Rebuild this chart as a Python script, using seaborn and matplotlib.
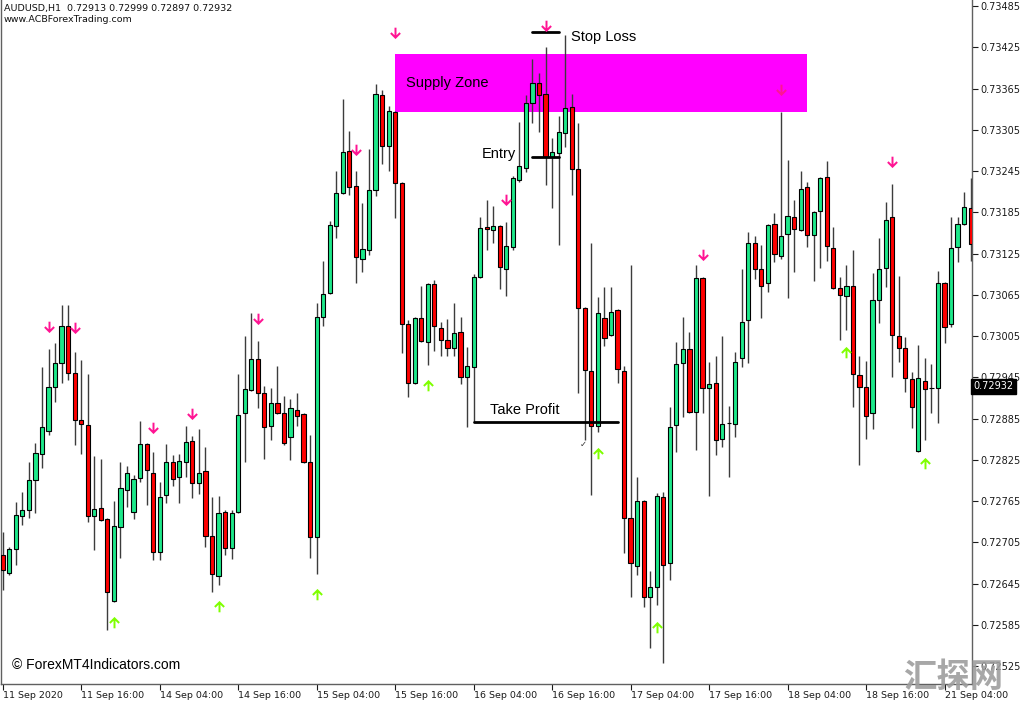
import matplotlib
matplotlib.use("Agg")
import matplotlib.pyplot as plt
import matplotlib.transforms as mtransforms
from matplotlib.patches import Rectangle
from matplotlib.path import Path
import numpy as np
import pandas as pd
import seaborn as sns

# AUDUSD H1 bars (11 Sep 2020 04:00 ... 21 Sep 2020)
opens = [
    0.72686, 0.72660, 0.72695, 0.72743, 0.72752, 0.72796, 0.72833, 0.72867, 0.72931, 0.72966,
    0.73020, 0.72951, 0.72883, 0.72876, 0.72743, 0.72755, 0.72739, 0.72620, 0.72727, 0.72781,
    0.72749, 0.72798, 0.72848, 0.72806, 0.72691, 0.72774, 0.72822, 0.72800, 0.72822, 0.72852,
    0.72791, 0.72809, 0.72714, 0.72656, 0.72749, 0.72697, 0.72749, 0.72893, 0.72926, 0.72972,
    0.72922, 0.72874, 0.72908, 0.72893, 0.72858, 0.72897, 0.72892, 0.72822, 0.72713, 0.73033,
    0.73068, 0.73165, 0.73213, 0.73274, 0.73223, 0.73117, 0.73130, 0.73217, 0.73356, 0.73281,
    0.73331, 0.73228, 0.73022, 0.72937, 0.73031, 0.72996, 0.73081, 0.73017, 0.72999, 0.72988,
    0.73011, 0.72945, 0.72960, 0.73091, 0.73164, 0.73159, 0.73165, 0.73102, 0.73134, 0.73232,
    0.73249, 0.73344, 0.73373, 0.73357, 0.73265, 0.73271, 0.73300, 0.73338, 0.73248, 0.73046,
    0.72954, 0.72874, 0.73031, 0.73006, 0.73043, 0.72954, 0.72740, 0.72671, 0.72765, 0.72625,
    0.72640, 0.72771, 0.72675, 0.72876, 0.72966, 0.72986, 0.72894, 0.73089, 0.72929, 0.72937,
    0.72855, 0.72878, 0.72877, 0.72973, 0.73028, 0.73140, 0.73102, 0.73082, 0.73168, 0.73121,
    0.73153, 0.73178, 0.73159, 0.73222, 0.73152, 0.73187, 0.73236, 0.73133, 0.73075, 0.73063,
    0.73078, 0.72948, 0.72931, 0.72893, 0.73057, 0.73104, 0.73178, 0.73005, 0.72988, 0.72942,
    0.72838, 0.72940, 0.72929, 0.72929, 0.73082, 0.73022, 0.73134, 0.73168, 0.73191,
]
highs = [
    0.72720, 0.72698, 0.72764, 0.72778, 0.72822, 0.72849, 0.72960, 0.72986, 0.72995, 0.73050,
    0.73050, 0.72982, 0.72970, 0.72950, 0.72830, 0.72826, 0.72740, 0.72765, 0.72822, 0.72816,
    0.72803, 0.72881, 0.72849, 0.72836, 0.72793, 0.72848, 0.72832, 0.72833, 0.72874, 0.72860,
    0.72870, 0.72844, 0.72771, 0.72772, 0.72752, 0.72752, 0.72950, 0.73005, 0.73038, 0.72998,
    0.72932, 0.72929, 0.72961, 0.72918, 0.72913, 0.72922, 0.72893, 0.72861, 0.73053, 0.73114,
    0.73172, 0.73245, 0.73350, 0.73303, 0.73245, 0.73198, 0.73277, 0.73372, 0.73363, 0.73340,
    0.73332, 0.73229, 0.73028, 0.73033, 0.73078, 0.73082, 0.73086, 0.73025, 0.73030, 0.73053,
    0.73033, 0.72989, 0.73095, 0.73178, 0.73203, 0.73194, 0.73166, 0.73171, 0.73238, 0.73316,
    0.73356, 0.73408, 0.73388, 0.73425, 0.73293, 0.73326, 0.73443, 0.73358, 0.73315, 0.73047,
    0.73140, 0.73062, 0.73076, 0.73076, 0.73044, 0.72961, 0.73108, 0.72800, 0.72766, 0.72663,
    0.72777, 0.72778, 0.72902, 0.72996, 0.73033, 0.73011, 0.73108, 0.73091, 0.72967, 0.72976,
    0.73005, 0.72903, 0.72982, 0.73102, 0.73156, 0.73150, 0.73137, 0.73168, 0.73184, 0.73331,
    0.73261, 0.73203, 0.73246, 0.73230, 0.73187, 0.73237, 0.73260, 0.73164, 0.73091, 0.73108,
    0.73130, 0.72976, 0.72969, 0.73097, 0.73148, 0.73200, 0.73226, 0.73092, 0.73004, 0.72953,
    0.72992, 0.72973, 0.72964, 0.73100, 0.73084, 0.73178, 0.73178, 0.73214, 0.73235,
]
lows = [
    0.72636, 0.72657, 0.72672, 0.72730, 0.72740, 0.72748, 0.72813, 0.72861, 0.72909, 0.72937,
    0.72941, 0.72846, 0.72833, 0.72735, 0.72694, 0.72736, 0.72577, 0.72618, 0.72682, 0.72756,
    0.72739, 0.72793, 0.72759, 0.72679, 0.72679, 0.72762, 0.72787, 0.72762, 0.72800, 0.72769,
    0.72775, 0.72698, 0.72633, 0.72643, 0.72686, 0.72681, 0.72748, 0.72822, 0.72925, 0.72900,
    0.72826, 0.72854, 0.72892, 0.72847, 0.72825, 0.72874, 0.72820, 0.72682, 0.72659, 0.73020,
    0.73066, 0.73148, 0.73212, 0.73210, 0.73082, 0.73098, 0.73123, 0.73209, 0.73255, 0.73246,
    0.73177, 0.72980, 0.72916, 0.72935, 0.72996, 0.72963, 0.72983, 0.72976, 0.72976, 0.72976,
    0.72935, 0.72873, 0.72880, 0.73089, 0.73130, 0.73140, 0.73073, 0.73063, 0.73130, 0.73230,
    0.73244, 0.73315, 0.73302, 0.73225, 0.73191, 0.73137, 0.73280, 0.73210, 0.72922, 0.72854,
    0.72774, 0.72865, 0.72990, 0.73005, 0.72937, 0.72689, 0.72625, 0.72657, 0.72611, 0.72551,
    0.72614, 0.72529, 0.72650, 0.72836, 0.72887, 0.72893, 0.72839, 0.72893, 0.72772, 0.72832,
    0.72844, 0.72800, 0.72858, 0.72960, 0.72966, 0.73088, 0.73031, 0.73069, 0.73113, 0.73117,
    0.73060, 0.73098, 0.73158, 0.73134, 0.73085, 0.73104, 0.73114, 0.73073, 0.72999, 0.73014,
    0.72902, 0.72817, 0.72855, 0.72870, 0.73024, 0.73076, 0.72945, 0.72967, 0.72924, 0.72871,
    0.72836, 0.72854, 0.72893, 0.72878, 0.72995, 0.73018, 0.73113, 0.73166, 0.73114,
]
closes = [
    0.72665, 0.72695, 0.72745, 0.72752, 0.72796, 0.72835, 0.72873, 0.72931, 0.72966, 0.73020,
    0.72951, 0.72883, 0.72877, 0.72743, 0.72753, 0.72737, 0.72633, 0.72729, 0.72784, 0.72806,
    0.72797, 0.72848, 0.72810, 0.72691, 0.72771, 0.72822, 0.72797, 0.72823, 0.72851, 0.72791,
    0.72806, 0.72714, 0.72659, 0.72748, 0.72697, 0.72748, 0.72890, 0.72928, 0.72972, 0.72922,
    0.72873, 0.72908, 0.72893, 0.72849, 0.72900, 0.72889, 0.72822, 0.72713, 0.73033, 0.73066,
    0.73166, 0.73213, 0.73273, 0.73222, 0.73120, 0.73132, 0.73217, 0.73358, 0.73281, 0.73332,
    0.73228, 0.73022, 0.72937, 0.73031, 0.72998, 0.73081, 0.73020, 0.72999, 0.72988, 0.73009,
    0.72945, 0.72961, 0.73091, 0.73162, 0.73161, 0.73165, 0.73105, 0.73136, 0.73235, 0.73252,
    0.73344, 0.73373, 0.73356, 0.73265, 0.73273, 0.73302, 0.73337, 0.73248, 0.73046, 0.72956,
    0.72874, 0.73038, 0.73002, 0.73040, 0.72957, 0.72740, 0.72675, 0.72765, 0.72625, 0.72640,
    0.72772, 0.72672, 0.72873, 0.72964, 0.72986, 0.72894, 0.73089, 0.72929, 0.72935, 0.72854,
    0.72877, 0.72878, 0.72967, 0.73025, 0.73140, 0.73102, 0.73078, 0.73166, 0.73124, 0.73150,
    0.73180, 0.73161, 0.73219, 0.73152, 0.73185, 0.73235, 0.73136, 0.73075, 0.73065, 0.73078,
    0.72950, 0.72931, 0.72889, 0.73057, 0.73102, 0.73174, 0.73006, 0.72988, 0.72944, 0.72902,
    0.72944, 0.72928, 0.72929, 0.73082, 0.73018, 0.73133, 0.73168, 0.73193, 0.73139,
]

date_ticks = [0, 12, 24, 36, 48, 60, 72, 84, 96, 108, 120, 132, 144]
date_labels = [
    "11 Sep 2020", "11 Sep 16:00", "14 Sep 04:00", "14 Sep 16:00", "15 Sep 04:00",
    "15 Sep 16:00", "16 Sep 04:00", "16 Sep 16:00", "17 Sep 04:00", "17 Sep 16:00",
    "18 Sep 04:00", "18 Sep 16:00", "21 Sep 04:00",
]
price_ticks = [
    0.73485, 0.73425, 0.73365, 0.73305, 0.73245, 0.73185, 0.73125, 0.73065, 0.73005,
    0.72945, 0.72885, 0.72825, 0.72765, 0.72705, 0.72645, 0.72585, 0.72525,
]

# indicator arrows (bar index, price where the arrow sits)
sell_bars = [7, 11, 23, 29, 39, 54, 60, 77, 83, 107, 119, 136]
sell_prices = [0.73018, 0.73017, 0.72871, 0.72892, 0.73030, 0.73276, 0.73446,
               0.73203, 0.73457, 0.73123, 0.73363, 0.73258]
buy_bars = [17, 33, 48, 65, 91, 100, 129, 141]
buy_prices = [0.72589, 0.72612, 0.72630, 0.72934, 0.72835, 0.72582, 0.72982, 0.72820]

# trade drawing
zone_bars = [60, 123]
zone_prices = [0.73331, 0.73415]
sl_bars, stop_loss = [81, 85], 0.73448
entry_bars, entry = [81, 85], 0.73266
tp_bars, take_profit = [72, 94], 0.72880
last_price = 0.72932

bars = pd.DataFrame({"open": opens, "high": highs, "low": lows, "close": closes})
bars["x"] = np.arange(len(bars))
bars["up"] = bars["close"] >= bars["open"]

# thick MT4-style arrow glyph (pointing down); the up arrow is its mirror
_down = [(-0.17, 1.0), (0.17, 1.0), (0.17, -0.3), (0.68, 0.21), (0.92, -0.04),
         (0.0, -0.96), (-0.92, -0.04), (-0.68, 0.21), (-0.17, -0.3), (-0.17, 1.0)]
arrow_down = Path(_down, closed=True)
arrow_up = Path([(x, -y) for x, y in _down], closed=True)

sns.set_theme(style="white")
plt.rcParams["font.family"] = ["DejaVu Sans"]

fig = plt.figure(figsize=(10.24, 7.04), dpi=100)
ax = fig.add_axes([0.001, 0.0291, 0.9482, 0.9705])

# supply zone behind the candles
ax.add_patch(Rectangle((zone_bars[0], zone_prices[0]), zone_bars[1] - zone_bars[0],
                       zone_prices[1] - zone_prices[0], fc="#ff00ff", ec="none", zorder=1))

ax.vlines(bars["x"], bars["low"], bars["high"], color="#3c3c3c", lw=1, zorder=2)
body_lo = np.minimum(bars["open"], bars["close"])
body_h = (bars["close"] - bars["open"]).abs()
ax.bar(bars["x"], body_h, bottom=body_lo, width=0.64,
       color=np.where(bars["up"], "#1de88a", "#ff0000"),
       edgecolor="black", linewidth=0.8, zorder=3)

sns.scatterplot(x=sell_bars, y=sell_prices, marker=arrow_down, s=70, color="#ff1493",
                linewidth=0, ax=ax, zorder=5, legend=False)
sns.scatterplot(x=buy_bars, y=buy_prices, marker=arrow_up, s=70, color="#7fff00",
                linewidth=0, ax=ax, zorder=5, legend=False)

lab = dict(fontsize=10.5, family=["Liberation Sans"], color="black", va="center", zorder=6)
ax.plot(sl_bars, [stop_loss] * 2, color="black", lw=2, zorder=4)
ax.plot(entry_bars, [entry] * 2, color="black", lw=2, zorder=4)
ax.plot(tp_bars, [take_profit] * 2, color="black", lw=2, zorder=4)
ax.text(86.9, 0.73440, "Stop Loss", ha="left", **lab)
ax.text(78.5, 0.73270, "Entry", ha="right", **lab)
ax.text(74.5, 0.72897, "Take Profit", ha="left", **lab)
ax.text(61.7, 0.73373, "Supply Zone", ha="left", **lab)
ax.text(88.8, 0.72848, "✓", ha="center", va="center", fontsize=6, color="#333333", zorder=6)

ax.set_xlim(-0.26, 148.2)
ax.set_ylim(0.724995, 0.734937)
ax.set_xlabel("")
ax.set_ylabel("")

ax.yaxis.tick_right()
ax.set_yticks(price_ticks)
ax.set_yticklabels([f"{p:.5f}" for p in price_ticks])
ax.set_xticks(date_ticks)
ax.set_xticklabels(date_labels, ha="left")
ax.tick_params(axis="y", direction="out", length=4, width=0.8, colors="#1a1a1a",
               labelsize=7, pad=2, right=True, left=False)
ax.tick_params(axis="x", direction="out", length=4, width=0.8, colors="#1a1a1a",
               labelsize=6.8, pad=1.5, bottom=True)
for side in ["left", "right", "bottom"]:
    ax.spines[side].set_color("#606060")
    ax.spines[side].set_linewidth(1)
ax.spines["top"].set_visible(False)
ax.grid(False)

# current price tag on the price scale
trans = mtransforms.blended_transform_factory(ax.transAxes, ax.transData)
ax.text(1.0015, last_price, f"{last_price:.5f}", transform=trans, ha="left", va="center",
        fontsize=7, color="white", zorder=7,
        bbox=dict(boxstyle="square,pad=0.25", fc="black", ec="black"))

fig.text(4 / 1024, 1 - 8 / 704, "AUDUSD,H1  0.72913 0.72999 0.72897 0.72932",
         fontsize=6.8, va="center", color="#111111")
fig.text(4 / 1024, 1 - 20 / 704, "www.ACBForexTrading.com", fontsize=6.8, va="center",
         color="#111111")
fig.text(12 / 1024, 1 - 665 / 704, "© ForexMT4Indicators.com", fontsize=10,
         family=["Liberation Sans"], va="center", color="black")
fig.text(953 / 1024, 1 - 677 / 704, "汇探网", fontsize=24, family=["Noto Sans CJK SC"],
         fontweight="bold", color="#9e9e9e", alpha=0.9, ha="center", va="center", zorder=10)

fig.savefig("out.png", dpi=100)
plt.close(fig)
